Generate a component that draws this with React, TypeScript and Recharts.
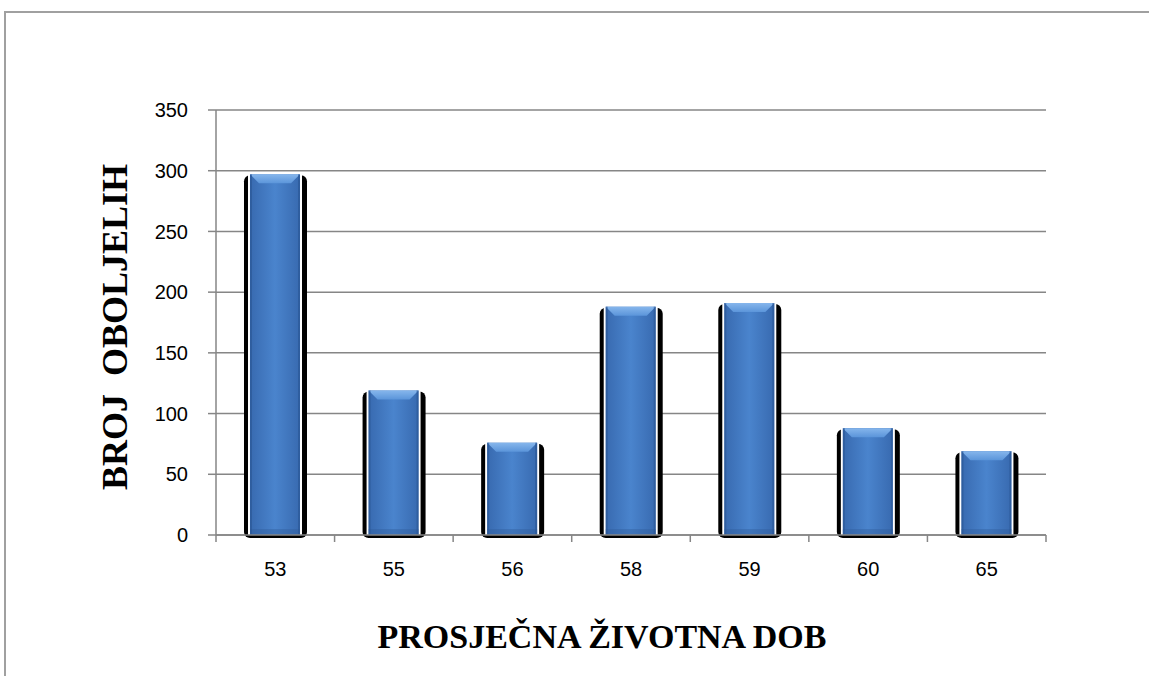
import { BarChart, Bar, XAxis, YAxis, CartesianGrid } from "recharts";

const ages = ["53", "55", "56", "58", "59", "60", "65"];
const patients = [297, 119, 76, 188, 191, 88, 69];
const yTicks = [0, 50, 100, 150, 200, 250, 300, 350];

const data = ages.map((age, i) => ({ age, count: patients[i] }));

const W = 1149;
const H = 676;
const LEFT = 216;
const RIGHT = 1046;
const BAND = (RIGHT - LEFT) / ages.length;
const GRID = "#868686";
const TICK_FONT = "'Liberation Sans', Arial, sans-serif";
const TITLE_FONT = "'Liberation Serif', 'Times New Roman', serif";

function BevelBar(props: any) {
  const { x, y, width, height } = props;
  if (!height || height <= 0) return null;
  const bottom = y + height;
  const bev = 9;
  return (
    <g>
      <rect x={x - 6} y={y + 1} width={width + 13} height={height + 2} rx={6} fill="#000" />
      <rect x={x - 2} y={y - 1} width={width + 4} height={height + 1} fill="#fff" />
      <rect x={x} y={y} width={width} height={height} fill="url(#barBody)" />
      <polygon
        points={`${x},${y} ${x + width},${y} ${x + width - bev},${y + bev} ${x + bev},${y + bev}`}
        fill="url(#barTop)"
      />
      <rect x={x} y={bottom - 6} width={width} height={6} fill="#2f5d9c" opacity={0.4} />
      <rect x={x} y={y} width={2} height={height} fill="#2a5592" opacity={0.6} />
      <rect x={x + width - 2} y={y} width={2} height={height} fill="#2a5592" opacity={0.6} />
    </g>
  );
}

function AgeTick(props: any) {
  const { x, y, payload, index } = props;
  const axisY = y - 8;
  return (
    <g>
      <line x1={x - BAND / 2} y1={axisY} x2={x - BAND / 2} y2={axisY + 7} stroke={GRID} strokeWidth={1.5} />
      {index === ages.length - 1 && (
        <line x1={x + BAND / 2} y1={axisY} x2={x + BAND / 2} y2={axisY + 7} stroke={GRID} strokeWidth={1.5} />
      )}
      <text x={x} y={axisY + 41} textAnchor="middle" fontFamily={TICK_FONT} fontSize={20} fill="#000">
        {payload.value}
      </text>
    </g>
  );
}

export default function App() {
  return (
    <div style={{ position: "fixed", left: 0, top: 0, width: W, height: H, background: "#fff" }}>
      <div
        style={{
          position: "absolute",
          left: 4,
          top: 11,
          width: W,
          height: H,
          borderTop: "2px solid #a0a0a0",
          borderLeft: "2px solid #a0a0a0",
        }}
      />
      <div style={{ position: "absolute", left: 0, top: 0 }}>
        <BarChart width={W} height={H} data={data} margin={{ top: 110, right: W - RIGHT, bottom: 101, left: LEFT - 60 }} barCategoryGap={0}>
          <defs>
            <linearGradient id="barBody" x1="0" y1="0" x2="1" y2="0">
              <stop offset="0%" stopColor="#386ab0" />
              <stop offset="50%" stopColor="#4a84cd" />
              <stop offset="100%" stopColor="#386ab0" />
            </linearGradient>
            <linearGradient id="barTop" x1="0" y1="0" x2="0" y2="1">
              <stop offset="0%" stopColor="#86b6ec" />
              <stop offset="100%" stopColor="#5b95da" />
            </linearGradient>
          </defs>
          <CartesianGrid vertical={false} stroke={GRID} strokeWidth={1.5} />
          <XAxis
            dataKey="age"
            height={40}
            axisLine={{ stroke: GRID, strokeWidth: 1.5 }}
            tickLine={false}
            tick={<AgeTick />}
            interval={0}
            label={{
              content: ({ viewBox }: any) => (
                <text
                  x={viewBox.x + 386}
                  y={648}
                  textAnchor="middle"
                  fontFamily={TITLE_FONT}
                  fontWeight="bold"
                  fontSize={34}
                  fill="#000"
                >
                  PROSJEČNA ŽIVOTNA DOB
                </text>
              ),
            }}
          />
          <YAxis
            width={60}
            domain={[0, 350]}
            ticks={yTicks}
            interval={0}
            axisLine={{ stroke: GRID, strokeWidth: 1.5 }}
            tickLine={{ stroke: GRID, strokeWidth: 1.5 }}
            tickSize={8}
            tickMargin={20}
            tick={{ fontFamily: TICK_FONT, fontSize: 20, fill: "#000" }}
            label={{
              content: () => (
                <text
                  x={127}
                  y={327}
                  transform="rotate(-90, 127, 327)"
                  textAnchor="middle"
                  fontFamily={TITLE_FONT}
                  fontWeight="bold"
                  fontSize={36}
                  fill="#000"
                  style={{ whiteSpace: "pre" }}
                >
                  {"BROJ  OBOLJELIH"}
                </text>
              ),
            }}
          />
          <Bar dataKey="count" barSize={50} shape={<BevelBar />} isAnimationActive={false} />
        </BarChart>
      </div>
    </div>
  );
}
